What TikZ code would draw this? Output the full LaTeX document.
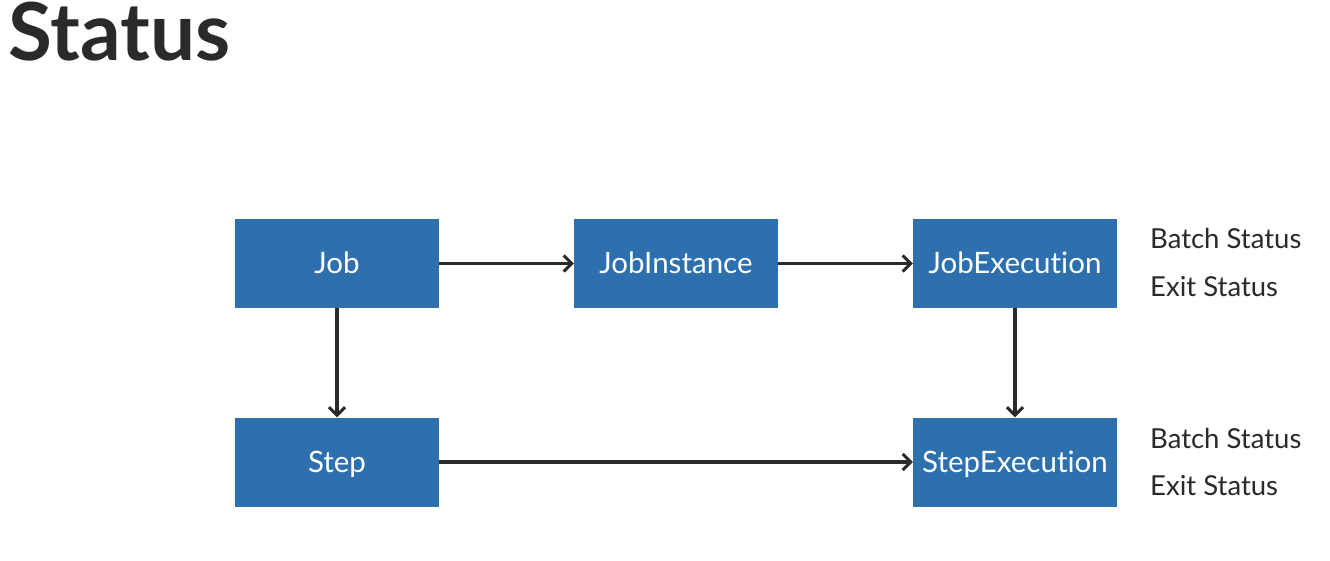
\documentclass[tikz,border=0pt]{standalone}
\usepackage{fontspec}
\setmainfont{Lato}[Ligatures={NoCommon}]
\usetikzlibrary{arrows.meta}
\definecolor{boxblue}{HTML}{2E6FAD}
\definecolor{ink}{HTML}{2A2A2A}
\begin{document}
\begin{tikzpicture}[x=1pt,y=-1pt,
  entity/.style={fill=boxblue,draw=none,minimum width=204pt,minimum height=89pt,
    inner sep=0pt,text=white,font=\fontsize{29.5}{32}\selectfont,text height=21pt,text depth=0pt},
  link/.style={draw=ink,line width=3.2pt,-{Straight Barb[length=8pt,width=16pt,line width=3pt]}},
  statlabel/.style={anchor=base west,inner sep=0pt,text=ink,font=\fontsize{27.5}{30}\selectfont}]
\useasboundingbox (0,0) rectangle (1330,561);
\fill[white] (0,0) rectangle (1330,561);
\node[anchor=base west,inner sep=0pt,text=ink,font=\fontsize{80}{84}\selectfont\bfseries] (title) at (8,61) {Status};
\node[entity] (job) at (337,263.5) {Job};
\node[entity] (inst) at (676,263.5) {JobInstance};
\node[entity] (jexec) at (1015,263.5) {JobExecution};
\node[entity] (step) at (337,462) {Step};
\node[entity] (sexec) at (1015,462) {StepExecution};
\node[statlabel] (b1) at (1150,249) {Batch Status};
\node[statlabel] (e1) at (1150,296) {Exit Status};
\node[statlabel] (b2) at (1150,448) {Batch Status};
\node[statlabel] (e2) at (1150,495) {Exit Status};
\draw[link] (job) -- (inst);
\draw[link] (inst) -- (jexec);
\draw[link] (job) -- (step);
\draw[link] (jexec) -- (sexec);
\draw[link] (step) -- (sexec);
\end{tikzpicture}
\end{document}
